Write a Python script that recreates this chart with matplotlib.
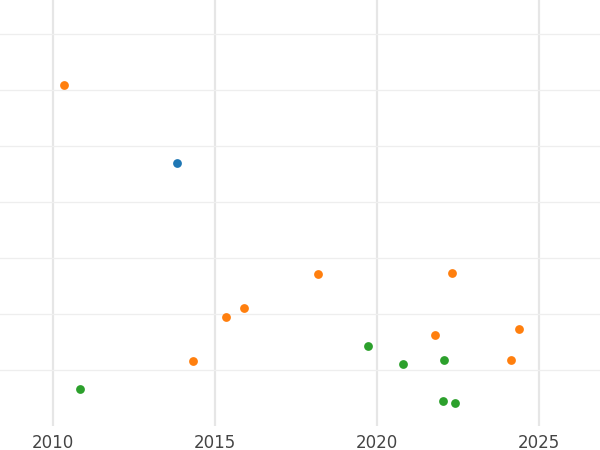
import matplotlib
matplotlib.use("Agg")
import matplotlib.pyplot as plt

blue_x = [2013.83]
blue_y = [4.70]
orange_x = [2010.34, 2018.18, 2022.31, 2015.90, 2015.34, 2021.79, 2024.38, 2014.32, 2024.14]
orange_y = [6.09, 2.71, 2.73, 2.11, 1.95, 1.63, 1.73, 1.16, 1.18]
green_x = [2010.83, 2019.72, 2020.80, 2022.07, 2022.04, 2022.41]
green_y = [0.66, 1.43, 1.11, 1.18, 0.45, 0.41]
xticks = [2010, 2015, 2020, 2025]

fig = plt.figure(figsize=(6, 4.5), dpi=100)
ax = fig.add_axes([0, 0.053, 1, 0.947])
ax.scatter(blue_x, blue_y, color="#1f77b4", s=40, zorder=3, linewidths=0)
ax.scatter(orange_x, orange_y, color="#ff7f0e", s=40, zorder=3, linewidths=0)
ax.scatter(green_x, green_y, color="#2ca02c", s=40, zorder=3, linewidths=0)

ax.set_xlim(2008.36, 2026.88)
ax.set_ylim(0, 7.6)
ax.set_xticks(xticks)
ax.set_yticks([1, 2, 3, 4, 5, 6, 7])
ax.set_yticklabels([])
ax.tick_params(axis="both", length=0)
ax.tick_params(axis="x", labelsize=12, labelcolor="#444444", pad=6)
ax.grid(axis="x", color="#e6e6e6", linewidth=1.6)
ax.grid(axis="y", color="#eeeeee", linewidth=0.9)
ax.set_axisbelow(True)
for s in ax.spines.values():
    s.set_visible(False)

plt.savefig("out.png", dpi=100)
